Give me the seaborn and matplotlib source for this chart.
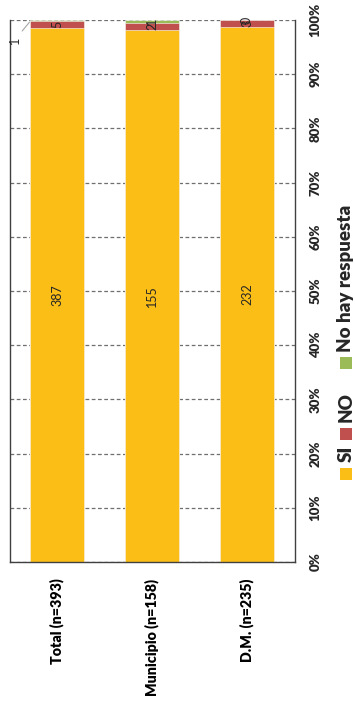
import matplotlib
matplotlib.use("Agg")
import matplotlib.pyplot as plt
from matplotlib.patches import Rectangle
import numpy as np
import pandas as pd
import seaborn as sns

# Survey answers per group
categories = ["Total (n=393)", "Municipio (n=158)", "D.M. (n=235)"]
si_counts = [387, 155, 232]
no_counts = [5, 2, 3]
nr_counts = [1, 1, 0]
series_names = ["SI", "NO", "No hay respuesta"]
pct_ticks = [0, 10, 20, 30, 40, 50, 60, 70, 80, 90, 100]

colors = {"SI": "#FBBE16", "NO": "#C0504D", "No hay respuesta": "#9BBB59"}

sns.set_style("white")
plt.rcParams["font.family"] = ["Lato", "DejaVu Sans"]

totals = np.array(si_counts) + np.array(no_counts) + np.array(nr_counts)
si_pct = np.array(si_counts) / totals * 100
no_pct = np.array(no_counts) / totals * 100
nr_pct = np.array(nr_counts) / totals * 100

df = pd.DataFrame({
    "cat": categories,
    "si": si_pct,
    "si_no": si_pct + no_pct,
    "all": si_pct + no_pct + nr_pct,
})

W, H = 355, 703
fig = plt.figure(figsize=(W / 100, H / 100), dpi=100)
ax = fig.add_axes([9.5 / W, (H - 562) / H, 285 / W, 542 / H])

# grid first so the bars sit on top of it
ax.set_axisbelow(True)
for t in pct_ticks:
    ax.axhline(t, color="#6f6f6f", lw=0.9, ls=(0, (3, 2)), zorder=0)

# stacked bars drawn as overlapping cumulative layers
bar_w = 0.57
sns.barplot(data=df, x="cat", y="all", color=colors["No hay respuesta"],
            width=bar_w, saturation=1, ax=ax, edgecolor="white", linewidth=0.4)
sns.barplot(data=df, x="cat", y="si_no", color=colors["NO"],
            width=bar_w, saturation=1, ax=ax, edgecolor="white", linewidth=0.4)
sns.barplot(data=df, x="cat", y="si", color=colors["SI"],
            width=bar_w, saturation=1, ax=ax, edgecolor="white", linewidth=0.4)

ax.set_xlim(-0.5, 2.5)
ax.set_ylim(0, 100)
ax.set_xlabel("")
ax.set_ylabel("")

# value labels inside each segment
lab_kw = dict(rotation=90, ha="center", va="center", fontsize=9, color="#262626")
for i in range(len(categories)):
    ax.text(i, si_pct[i] / 2, str(si_counts[i]), **lab_kw)
    if i == 0:
        ax.text(i, si_pct[i] + no_pct[i] / 2, str(no_counts[i]), **lab_kw)
        ax.annotate(str(nr_counts[i]),
                    xy=(-0.29, 99.6), xytext=(-0.445, 96.3),
                    textcoords="data", rotation=90, ha="center", va="center",
                    fontsize=9, color="#262626",
                    arrowprops=dict(arrowstyle="-", color="#a6a6a6", lw=0.8,
                                    shrinkA=2, shrinkB=0))
    else:
        ax.text(i, si_pct[i] + no_pct[i] / 2, str(no_counts[i]), **lab_kw)
        ax.text(i, si_pct[i] + no_pct[i] + nr_pct[i] / 2, str(nr_counts[i]), **lab_kw)

# axes styling
ax.yaxis.tick_right()
ax.set_yticks(pct_ticks)
ax.set_yticklabels([f"{t}%" for t in pct_ticks], rotation=90, va="center",
                   fontweight=800, fontsize=9.5, color="#262626")
ax.tick_params(axis="y", length=0, pad=11)
ax.set_xticks(range(len(categories)))
ax.set_xticklabels(categories, rotation=90, ha="center", va="top",
                   fontweight=800, fontsize=10.3, color="#000000")
ax.tick_params(axis="x", length=0, pad=12)

for side in ["left", "bottom", "right"]:
    ax.spines[side].set_visible(True)
    ax.spines[side].set_color("#404040")
    ax.spines[side].set_linewidth(1.0)
ax.spines["top"].set_visible(False)

# legend, read bottom-to-top like the rest of the chart
leg_x0 = 340
sq = 12
entries = [("SI", 468, 462), ("NO", 428, 422), ("No hay respuesta", 357, 352)]
for name, sq_top, txt_bottom in entries:
    fig.patches.append(Rectangle((leg_x0 / W, (H - sq_top - sq) / H), sq / W, sq / H,
                                 transform=fig.transFigure, facecolor=colors[name],
                                 edgecolor="none"))
    fig.text((leg_x0 + sq / 2) / W, (H - txt_bottom) / H, name, rotation=90,
             ha="center", va="bottom", fontsize=13.5, fontweight=800,
             color="#262626")

fig.savefig("out.png", dpi=100)
